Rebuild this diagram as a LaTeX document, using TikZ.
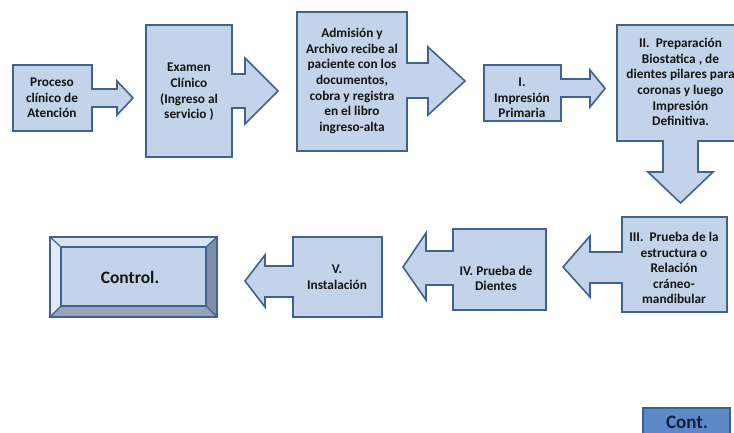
\documentclass[tikz,border=0pt]{standalone}
\usepackage{fontspec}
\setmainfont{Carlito}
\definecolor{boxfill}{HTML}{C3D4EA}
\definecolor{boxline}{HTML}{3F6290}
\definecolor{bevlight}{HTML}{D9E4F2}
\definecolor{bevleft}{HTML}{E2EAF5}
\definecolor{bevdark}{HTML}{7F8EA5}
\definecolor{bevbot}{HTML}{98A4B7}
\definecolor{contfill}{HTML}{5E89C8}
\definecolor{contline}{HTML}{3C6094}
\definecolor{txt}{HTML}{141414}
\definecolor{conttxt}{HTML}{14213D}
\begin{document}
\begin{tikzpicture}[x=1pt,y=-1pt,
  shapebox/.style={fill=boxfill,draw=boxline,line width=1.6pt,line join=miter},
  label/.style={align=center,text=txt,font=\bfseries\fontsize{13.3}{15.6}\selectfont,inner sep=0pt},
  biglabel/.style={align=center,text=txt,font=\bfseries\fontsize{17.5}{21}\selectfont,inner sep=0pt}]
\useasboundingbox (0,0) rectangle (734,432);
\begin{scope}
\clip (0,0) rectangle (734,432);
% 1
\draw[shapebox] (13,65) -- (92,65) -- (92,89) -- (117,89) -- (117,81) -- (133,98) -- (117,115) -- (117,107) -- (92,107) -- (92,131) -- (13,131) -- cycle;
% 2
\draw[shapebox] (146,25) -- (232,25) -- (232,74) -- (245,74) -- (245,58) -- (278,91) -- (245,124) -- (245,108) -- (232,108) -- (232,157) -- (146,157) -- cycle;
% 3
\draw[shapebox] (297,12) -- (407,12) -- (407,63) -- (428,63) -- (428,47) -- (465,81) -- (428,115) -- (428,98) -- (407,98) -- (407,151) -- (297,151) -- cycle;
% 4
\draw[shapebox] (484,65) -- (561,65) -- (561,79) -- (590,79) -- (590,70) -- (605,88.5) -- (590,107) -- (590,97) -- (561,97) -- (561,121) -- (484,121) -- cycle;
% 5 (down arrow)
\draw[shapebox] (617,25) -- (744,25) -- (744,141) -- (698,141) -- (698,172) -- (713,172) -- (680.5,203) -- (648,172) -- (663,172) -- (663,141) -- (617,141) -- cycle;
% 6
\draw[shapebox] (622,217) -- (727,217) -- (727,312) -- (622,312) -- (622,283) -- (590,283) -- (590,297) -- (563,267) -- (590,236) -- (590,252) -- (622,252) -- cycle;
% 7
\draw[shapebox] (453,229) -- (546,229) -- (546,310) -- (453,310) -- (453,285) -- (426,285) -- (426,300) -- (403,267) -- (426,233) -- (426,251) -- (453,251) -- cycle;
% 8
\draw[shapebox] (293,237) -- (382,237) -- (382,317) -- (293,317) -- (293,297) -- (265,297) -- (265,307) -- (245,281) -- (265,255) -- (265,266) -- (293,266) -- cycle;
% Control bevel
\fill[bevlight] (50,237) -- (217,237) -- (206,247) -- (61,247) -- cycle;
\fill[bevleft] (50,237) -- (61,247) -- (61,306) -- (50,317) -- cycle;
\fill[bevdark] (217,237) -- (217,317) -- (206,306) -- (206,247) -- cycle;
\fill[bevbot] (50,317) -- (217,317) -- (206,306) -- (61,306) -- cycle;
\draw[shapebox] (61,247) rectangle (206,306);
\draw[draw=boxline,line width=1.6pt] (50,237) rectangle (217,317);
\draw[draw=boxline,line width=1.2pt] (50,237) -- (61,247) (217,237) -- (206,247) (50,317) -- (61,306) (217,317) -- (206,306);
% Cont.
\draw[fill=contfill,draw=contline,line width=1.4pt] (643,408) rectangle (730,440);
\end{scope}
\node[label] (n1) at (52,98) {Proceso\\clínico de\\Atención};
\node[label] (n2) at (189,92) {Examen\\Clínico\\(Ingreso al\\servicio )};
\node[label] (n3) at (352,81) {Admisión y\\Archivo recibe al\\paciente con los\\documentos,\\cobra y registra\\en el libro\\ingreso-alta};
\node[label] (n4) at (522,98) {I.\\Impresión\\Primaria};
\node[label] (n5) at (680.5,82) {II.\ \ Preparación\\Biostatica , de\\dientes pilares para\\coronas y luego\\Impresión\\Definitiva.};
\node[label] (n6) at (674,268) {III.\ \ Prueba de la\\estructura o\\Relación\\cráneo-\\mandibular};
\node[label] (n7) at (496,278.5) {IV.\ Prueba de\\Dientes};
\node[label] (n8) at (337,277) {V.\\Instalación};
\node[biglabel] (ctrl) at (130,277) {Control.};
\node[align=center,text=conttxt,font=\bfseries\fontsize{19}{22}\selectfont,inner sep=0pt] (cont) at (687,422) {Cont.};
\end{tikzpicture}
\end{document}
